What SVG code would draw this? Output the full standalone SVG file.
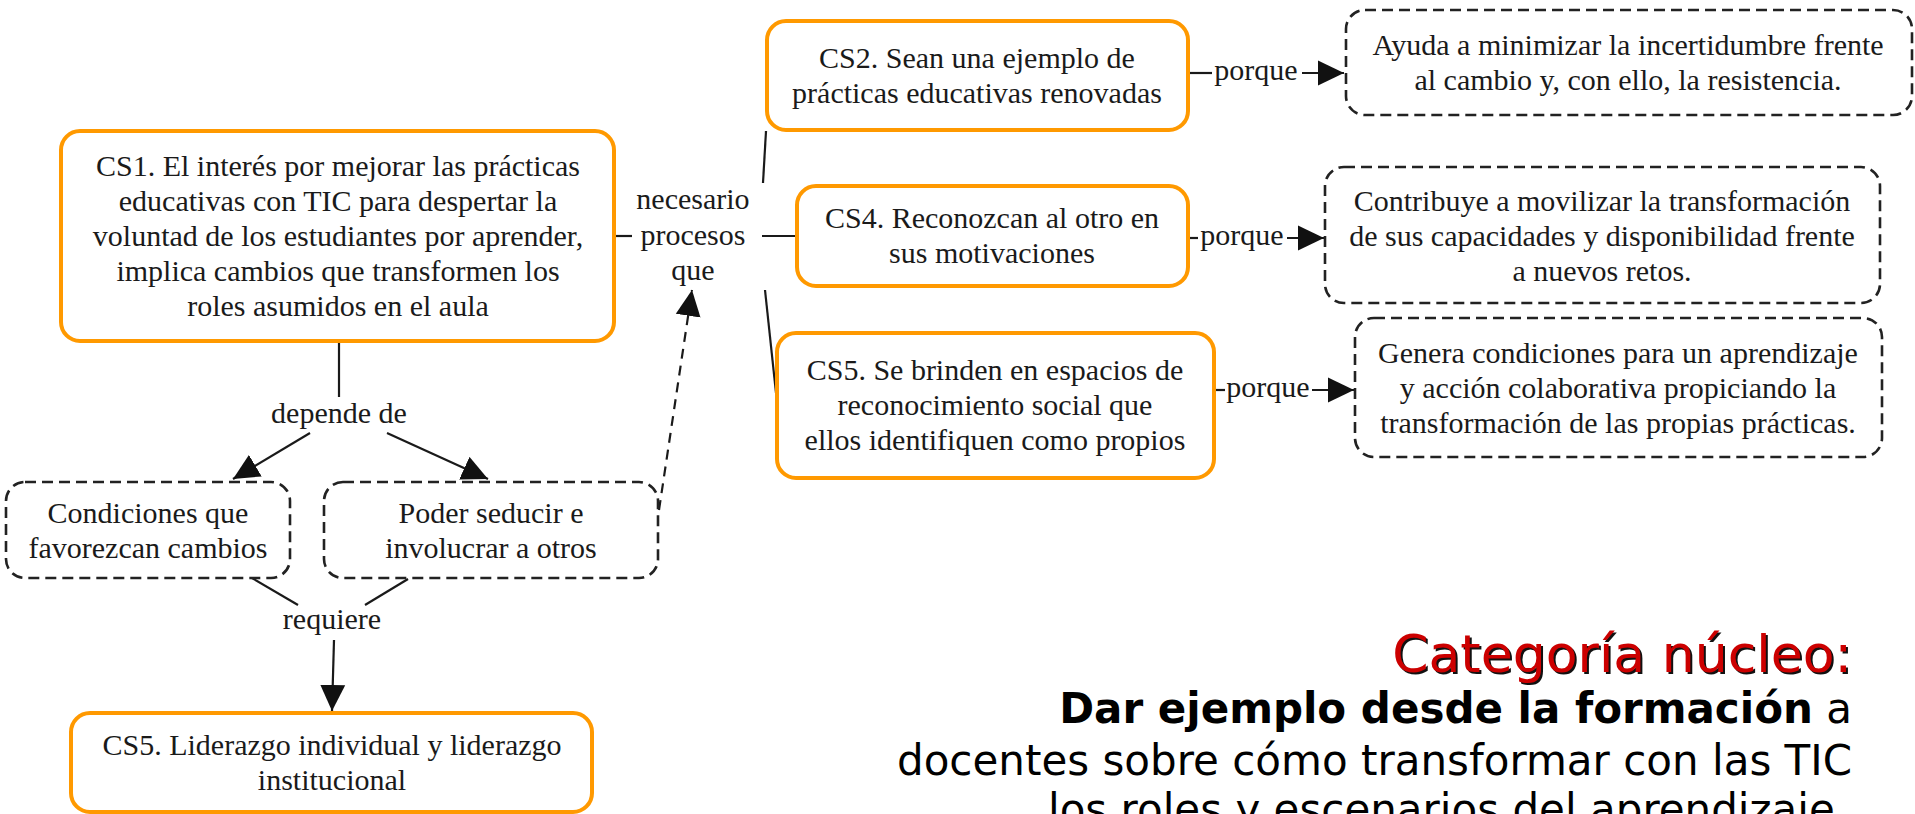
<svg xmlns="http://www.w3.org/2000/svg" width="1915" height="814" viewBox="0 0 1915 814">
<style>
.bg{fill:#ffffff}
.cs rect{fill:#ffffff;stroke:#FF9900;stroke-width:4}
.db rect{fill:#ffffff;stroke:#222222;stroke-width:2.6;stroke-dasharray:11 6}
.t{font-family:"Liberation Serif","Times New Roman",serif;font-size:30px;fill:#1a1a1a;text-anchor:middle}
.edge{stroke:#1a1a1a;stroke-width:2.2;fill:none}
.dash{stroke-dasharray:10 7}
.cat{font-family:"DejaVu Sans",sans-serif;text-anchor:end}
</style>
<defs>
<marker id="ah" markerUnits="userSpaceOnUse" markerWidth="26" markerHeight="26" viewBox="0 0 25 24" refX="25" refY="12" orient="auto">
<path d="M0,0 L25,12 L0,24 z" fill="#111111"/>
</marker>
</defs>
<rect class="bg" x="0" y="0" width="1915" height="814"/>

<g id="connectors">
<line class="edge" x1="615" y1="236" x2="632" y2="236"/>
<line class="edge" x1="762" y1="236" x2="797" y2="236"/>
<line class="edge" x1="763" y1="183" x2="766" y2="131"/>
<line class="edge" x1="765" y1="290" x2="776" y2="393"/>
<line class="edge" x1="339" y1="343" x2="339" y2="397"/>
<line class="edge" x1="310" y1="433" x2="233" y2="479" marker-end="url(#ah)"/>
<line class="edge" x1="387" y1="433" x2="488" y2="479" marker-end="url(#ah)"/>
<line class="edge dash" x1="659" y1="510" x2="692" y2="290" marker-end="url(#ah)"/>
<line class="edge" x1="252" y1="578" x2="298" y2="605"/>
<line class="edge" x1="408" y1="579" x2="365" y2="605"/>
<line class="edge" x1="334" y1="640" x2="332" y2="711" marker-end="url(#ah)"/>
<line class="edge" x1="1189" y1="73" x2="1212" y2="73"/>
<line class="edge" x1="1302" y1="73" x2="1344" y2="73" marker-end="url(#ah)"/>
<line class="edge" x1="1189" y1="238" x2="1198" y2="238"/>
<line class="edge" x1="1287" y1="238" x2="1324" y2="238" marker-end="url(#ah)"/>
<line class="edge" x1="1215" y1="390" x2="1225" y2="390"/>
<line class="edge" x1="1312" y1="390" x2="1354" y2="390" marker-end="url(#ah)"/>
<text class="t" x="693" y="209">necesario</text>
<text class="t" x="693" y="245">procesos</text>
<text class="t" x="693" y="280">que</text>
<text class="t" x="339" y="423">depende de</text>
<text class="t" x="332" y="629">requiere</text>
<text class="t" x="1256" y="80">porque</text>
<text class="t" x="1242" y="245">porque</text>
<text class="t" x="1268" y="397">porque</text>
</g>

<g id="cs1" class="cs">
<rect x="61" y="131" width="553" height="210" rx="19"/>
<text class="t" x="338" y="176">CS1. El interés por mejorar las prácticas</text>
<text class="t" x="338" y="211">educativas con TIC para despertar la</text>
<text class="t" x="338" y="246">voluntad de los estudiantes por aprender,</text>
<text class="t" x="338" y="281">implica cambios que transformen los</text>
<text class="t" x="338" y="316">roles asumidos en el aula</text>
</g>

<g id="cs2" class="cs">
<rect x="767" y="21" width="421" height="109" rx="19"/>
<text class="t" x="977" y="68">CS2. Sean una ejemplo de</text>
<text class="t" x="977" y="103">prácticas educativas renovadas</text>
</g>

<g id="cs4" class="cs">
<rect x="797" y="186" width="391" height="100" rx="19"/>
<text class="t" x="992" y="228">CS4. Reconozcan al otro en</text>
<text class="t" x="992" y="263">sus motivaciones</text>
</g>

<g id="cs5a" class="cs">
<rect x="777" y="333" width="437" height="145" rx="19"/>
<text class="t" x="995" y="380">CS5. Se brinden en espacios de</text>
<text class="t" x="995" y="415">reconocimiento social que</text>
<text class="t" x="995" y="450">ellos identifiquen como propios</text>
</g>

<g id="cs5b" class="cs">
<rect x="71" y="713" width="521" height="99" rx="19"/>
<text class="t" x="332" y="755">CS5. Liderazgo individual y liderazgo</text>
<text class="t" x="332" y="790">institucional</text>
</g>

<g id="d1" class="db">
<rect x="1346" y="10" width="566" height="105" rx="19"/>
<text class="t" x="1628" y="55">Ayuda a minimizar la incertidumbre frente</text>
<text class="t" x="1628" y="90">al cambio y, con ello, la resistencia.</text>
</g>

<g id="d2" class="db">
<rect x="1325" y="167" width="555" height="136" rx="19"/>
<text class="t" x="1602" y="211">Contribuye a movilizar la transformación</text>
<text class="t" x="1602" y="246">de sus capacidades y disponibilidad frente</text>
<text class="t" x="1602" y="281">a nuevos retos.</text>
</g>

<g id="d3" class="db">
<rect x="1355" y="318" width="527" height="139" rx="19"/>
<text class="t" x="1618" y="363">Genera condiciones para un aprendizaje</text>
<text class="t" x="1618" y="398">y acción colaborativa propiciando la</text>
<text class="t" x="1618" y="433">transformación de las propias prácticas.</text>
</g>

<g id="condiciones" class="db">
<rect x="6" y="482" width="284" height="96" rx="19"/>
<text class="t" x="148" y="523">Condiciones que</text>
<text class="t" x="148" y="558">favorezcan cambios</text>
</g>

<g id="poder" class="db">
<rect x="324" y="482" width="334" height="96" rx="19"/>
<text class="t" x="491" y="523">Poder seducir e</text>
<text class="t" x="491" y="558">involucrar a otros</text>
</g>

<g id="categoria">
<text class="cat" x="1854" y="674" font-size="52" fill="#111111">Categoría núcleo:</text>
<text class="cat" x="1852" y="672" font-size="52" fill="#CC0000">Categoría núcleo:</text>
<text class="cat" x="1852" y="723" font-size="42" fill="#000000"><tspan font-weight="bold">Dar ejemplo desde la formación</tspan> a</text>
<text class="cat" x="1852" y="775" font-size="42" fill="#000000">docentes sobre cómo transformar con las TIC</text>
<text class="cat" x="1048" y="824" font-size="42" fill="#000000" text-anchor="start" style="text-anchor:start">los roles y escenarios del aprendizaje</text>
</g>
</svg>
